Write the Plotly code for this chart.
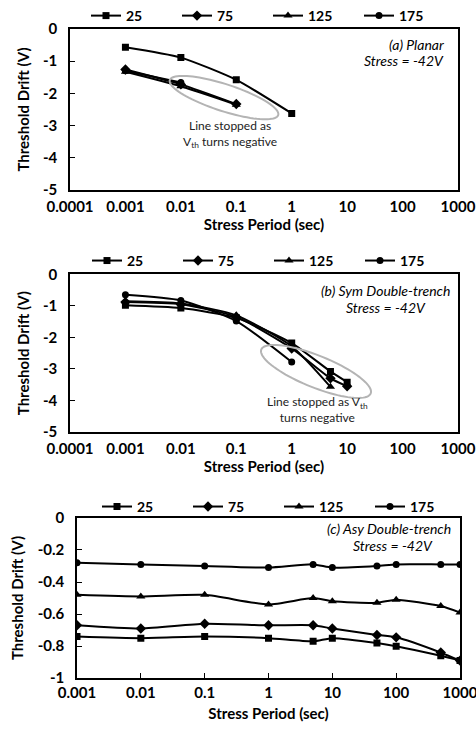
import numpy as np
import plotly.graph_objects as go

# ---------------- data ----------------
temps = ["25", "75", "125", "175"]

period_a = [0.001, 0.01, 0.1, 1]
drift_a_25 = [-0.57, -0.89, -1.58, -2.62]
drift_a_75 = [-1.26, -1.72, -2.33]
drift_a_125 = [-1.33, -1.78, -2.35]
drift_a_175 = [-1.30, -1.66]

period_b = [0.001, 0.01, 0.1, 1, 5, 10]
drift_b_25 = [-0.98, -1.07, -1.38, -2.18, -3.08, -3.42]
drift_b_75 = [-0.88, -0.95, -1.35, -2.35, -3.30, -3.55]
drift_b_125 = [-0.85, -0.92, -1.30, -2.28, -3.57]
drift_b_175 = [-0.65, -0.83, -1.48, -2.78]

period_c = [0.001, 0.01, 0.1, 1, 5, 10, 50, 100, 500, 1000]
drift_c_25 = [-0.74, -0.75, -0.74, -0.75, -0.77, -0.75, -0.78, -0.80, -0.86, -0.89]
drift_c_75 = [-0.67, -0.69, -0.66, -0.67, -0.67, -0.69, -0.73, -0.745, -0.84, -0.89]
drift_c_125 = [-0.48, -0.49, -0.48, -0.54, -0.50, -0.52, -0.53, -0.51, -0.55, -0.59]
drift_c_175 = [-0.28, -0.29, -0.30, -0.31, -0.29, -0.31, -0.30, -0.29, -0.29, -0.29]

xtick_ab = [0.0001, 0.001, 0.01, 0.1, 1, 10, 100, 1000]
xtick_ab_text = ["0.0001", "0.001", "0.01", "0.1", "1", "10", "100", "1000"]
xtick_c = [0.001, 0.01, 0.1, 1, 10, 100, 1000]
xtick_c_text = ["0.001", "0.01", "0.1", "1", "10", "100", "1000"]
ytick_ab = [0, -1, -2, -3, -4, -5]
ytick_ab_text = ["0", "-1", "-2", "-3", "-4", "-5"]
ytick_c = [0, -0.2, -0.4, -0.6, -0.8, -1]
ytick_c_text = ["0", "-0.2", "-0.4", "-0.6", "-0.8", "-1"]

panel_titles = ["(a) Planar", "(b) Sym Double-trench", "(c) Asy Double-trench"]
stress_text = "Stress = -42V"

# ---------------- styling ----------------
W, H = 476, 732
FONT = "Lato"
symbols = ["square", "diamond", "triangle-up", "circle"]
msizes = [7, 8, 8, 7]

# pixel boxes of the three plotting areas: (left, right, top, bottom)
boxes = [(70, 458, 26, 188), (70, 458, 272.5, 430.7), (77, 460, 517, 678)]


def xdom(b):
    return [b[0] / W, b[1] / W]


def ydom(b):
    return [1 - b[3] / H, 1 - b[2] / H]


fig = go.Figure()

series = [
    (period_a, [drift_a_25, drift_a_75, drift_a_125, drift_a_175]),
    (period_b, [drift_b_25, drift_b_75, drift_b_125, drift_b_175]),
    (period_c, [drift_c_25, drift_c_75, drift_c_125, drift_c_175]),
]
legend_names = ["legend", "legend2", "legend3"]

for p, (period, ys) in enumerate(series):
    axs = "" if p == 0 else str(p + 1)
    for k, yv in enumerate(ys):
        fig.add_trace(go.Scatter(
            x=period[:len(yv)], y=yv, name=temps[k],
            mode="lines+markers",
            line=dict(color="black", width=2, shape="spline", smoothing=0.6),
            marker=dict(symbol=symbols[k], size=msizes[k], color="black"),
            xaxis="x" + axs, yaxis="y" + axs,
            legend=legend_names[p],
        ))

axis_font = dict(family=FONT, size=15, color="black", weight="bold")
title_font = dict(family=FONT, size=15, color="black", weight="bold")

layout = dict(
    width=W, height=H,
    margin=dict(l=0, r=0, t=0, b=0),
    paper_bgcolor="white", plot_bgcolor="white",
    font=dict(family=FONT, color="black"),
    showlegend=True,
)

legend_y = [13, 259, 506]
legend_x = [86, 87, 97]
for p in range(3):
    axs = "" if p == 0 else str(p + 1)
    b = boxes[p]
    ab = p < 2
    layout["xaxis" + axs] = dict(
        type="log", domain=xdom(b), anchor="y" + axs,
        range=[-4, 3] if ab else [-3, 3],
        tickvals=xtick_ab if ab else xtick_c,
        ticktext=xtick_ab_text if ab else xtick_c_text,
        ticks="" if ab else "inside", ticklen=5, tickwidth=1.3, tickcolor="black",
        showline=True, linecolor="black", linewidth=1.6, mirror=True,
        showgrid=False, zeroline=False, automargin=False,
        tickfont=axis_font, ticklabelstandoff=2 if ab else 0,
        ticklabeloverflow="allow",
        title=dict(text="Stress Period (sec)", font=title_font,
                   standoff=1 if ab else 8),
    )
    layout["yaxis" + axs] = dict(
        domain=ydom(b), anchor="x" + axs,
        range=[-5, 0] if ab else [-1, 0],
        tickvals=ytick_ab if ab else ytick_c,
        ticktext=ytick_ab_text if ab else ytick_c_text,
        ticks="inside", ticklen=5, tickwidth=1.3, tickcolor="black",
        showline=True, linecolor="black", linewidth=1.6, mirror=True,
        showgrid=False, zeroline=False, automargin=False,
        tickfont=axis_font, ticklabelstandoff=8, ticklabeloverflow="allow",
        title=dict(text="Threshold Drift (V)", font=title_font, standoff=10),
    )
    layout[legend_names[p]] = dict(
        orientation="h", x=legend_x[p] / W, xanchor="left",
        y=1 - legend_y[p] / H, yanchor="middle",
        entrywidth=46, entrywidthmode="pixels", itemwidth=30,
        font=dict(family=FONT, size=14, color="black", weight="bold"),
        bgcolor="rgba(0,0,0,0)", tracegroupgap=0,
    )

fig.update_layout(**layout)

# panel labels (upper right of each box)
label_pos = [(446, 42, 446, 58, "right"), (452, 289, 386, 306, "center"),
             (453, 528, 393, 545, "center")]
for p in range(3):
    xa, ya, xs, ys_, anchor = label_pos[p]
    fig.add_annotation(x=xa / W, y=1 - ya / H, xref="paper", yref="paper",
                       text="<i>" + panel_titles[p] + "</i>", showarrow=False,
                       xanchor="right", yanchor="middle",
                       font=dict(family=FONT, size=14, color="black"))
    fig.add_annotation(x=xs / W, y=1 - ys_ / H, xref="paper", yref="paper",
                       text="<i>" + stress_text + "</i>", showarrow=False,
                       xanchor=anchor, yanchor="middle",
                       font=dict(family=FONT, size=14, color="black"))


# grey ellipses around the truncated curves, specified in pixel space
def ellipse_path(cx, cy, a, b, deg, n=90):
    t = np.linspace(0, 2 * np.pi, n)
    th = np.deg2rad(deg)
    px = cx + a * np.cos(t) * np.cos(th) - b * np.sin(t) * np.sin(th)
    py = cy + a * np.cos(t) * np.sin(th) + b * np.sin(t) * np.cos(th)
    pts = [f"{x / W:.5f},{1 - y / H:.5f}" for x, y in zip(px, py)]
    return "M " + " L ".join(pts) + " Z"


for (cx, cy, a, b, deg) in [(224, 95, 57, 13.5, 18), (316, 370, 59, 16, 22)]:
    fig.add_shape(type="path", xref="paper", yref="paper",
                  path=ellipse_path(cx, cy, a, b, deg),
                  line=dict(color="#b4b4b4", width=2), fillcolor="rgba(0,0,0,0)")

note_font = dict(family=FONT, size=12, color="#222222")
fig.add_annotation(x=230 / W, y=1 - 132 / H, xref="paper", yref="paper",
                   text="Line stopped as<br>V<sub>th</sub> turns negative",
                   showarrow=False, xanchor="center", yanchor="middle",
                   font=note_font, align="center")
fig.add_annotation(x=317 / W, y=1 - 408 / H, xref="paper", yref="paper",
                   text="Line stopped as V<sub>th</sub><br>turns negative",
                   showarrow=False, xanchor="center", yanchor="middle",
                   font=note_font, align="center")

fig.write_html("out.html")
